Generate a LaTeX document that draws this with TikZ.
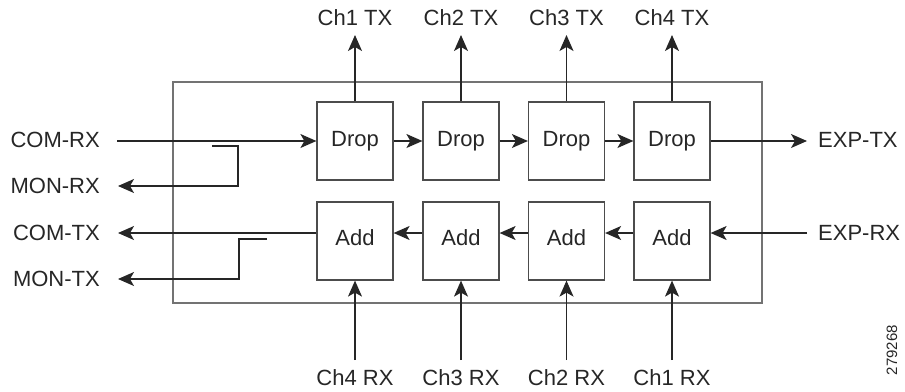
\documentclass[tikz,border=0pt]{standalone}
\usepackage{fontspec}
\setmainfont{Liberation Sans}
\usetikzlibrary{arrows.meta}
\begin{document}
\begin{tikzpicture}[x=1pt,y=-1pt,
  lbl/.style={font=\fontsize{22}{26}\selectfont, inner sep=0pt, text=black!85},
  blk/.style={draw=black!70, line width=1.2pt, minimum width=76pt, minimum height=78pt,
              inner sep=0pt, font=\fontsize{22}{26}\selectfont, text=black!85},
  sig/.style={draw=black!85, line width=1.3pt},
  arr/.style={sig, -{Stealth[length=16pt,width=14pt,inset=4pt]}},
  frame/.style={draw=black!55, line width=1.4pt}]
\useasboundingbox (0,0) rectangle (905,391);

% module outline
\draw[frame] (173,82) rectangle (762,303);

% drop and add stages
\foreach \i/\x in {1/355,2/461,3/566.5,4/672}{
  \node[blk] (d\i) at (\x,141) {Drop};
  \node[blk, text depth=7pt] (a\i) at (\x,241) {Add};
  \pgfmathtruncatemacro{\rx}{5-\i}
  \node[lbl] (tx\i) at (\x,18) {Ch\i\ TX};
  \node[lbl] (rx\i) at (\x,378) {Ch\rx\ RX};
  \coordinate (txend\i) at (\x,35);
  \coordinate (rxstart\i) at (\x,360);
  \draw[arr] (d\i.north) -- (txend\i);
  \draw[arr] (rxstart\i) -- (a\i.south);
}

% chain arrows
\draw[arr] (d1.east) -- (d2.west);
\draw[arr] (d2.east) -- (d3.west);
\draw[arr] (d3.east) -- (d4.west);
\draw[arr] ([yshift=8pt]a4.west) -- ([yshift=8pt]a3.east);
\draw[arr] ([yshift=8pt]a3.west) -- ([yshift=8pt]a2.east);
\draw[arr] ([yshift=8pt]a2.west) -- ([yshift=8pt]a1.east);

% left ports
\node[lbl, anchor=east] (comrx) at (100,140) {COM-RX};
\node[lbl, anchor=east] (monrx) at (100,186) {MON-RX};
\node[lbl, anchor=east] (comtx) at (100,233) {COM-TX};
\node[lbl, anchor=east] (montx) at (100,279) {MON-TX};
\coordinate (crx) at (117,141);
\coordinate (mrxa) at (212,146);
\coordinate (mrxb) at (238,146);
\coordinate (mrxc) at (238,186);
\coordinate (mrx) at (118,186);
\coordinate (ctx) at (118,233);
\coordinate (mtxa) at (267,239);
\coordinate (mtxb) at (239,239);
\coordinate (mtxc) at (239,279);
\coordinate (mtx) at (118,279);
\draw[arr] (crx) -- (d1.west);
\draw[arr] (mrxa) -- (mrxb) -- (mrxc) -- (mrx);
\draw[arr] ([yshift=8pt]a1.west) -- (ctx);
\draw[arr] (mtxa) -- (mtxb) -- (mtxc) -- (mtx);

% right ports
\node[lbl, anchor=west] (exptx) at (818,140) {EXP-TX};
\node[lbl, anchor=west] (exprx) at (818,233) {EXP-RX};
\coordinate (etx) at (807,141);
\coordinate (erx) at (807,233);
\draw[arr] (d4.east) -- (etx);
\draw[arr] (erx) -- ([yshift=8pt]a4.east);

% figure number
\node[font=\fontsize{15}{18}\selectfont, rotate=90, inner sep=0pt, text=black!85] (fig) at (892,350) {279268};
\end{tikzpicture}
\end{document}
